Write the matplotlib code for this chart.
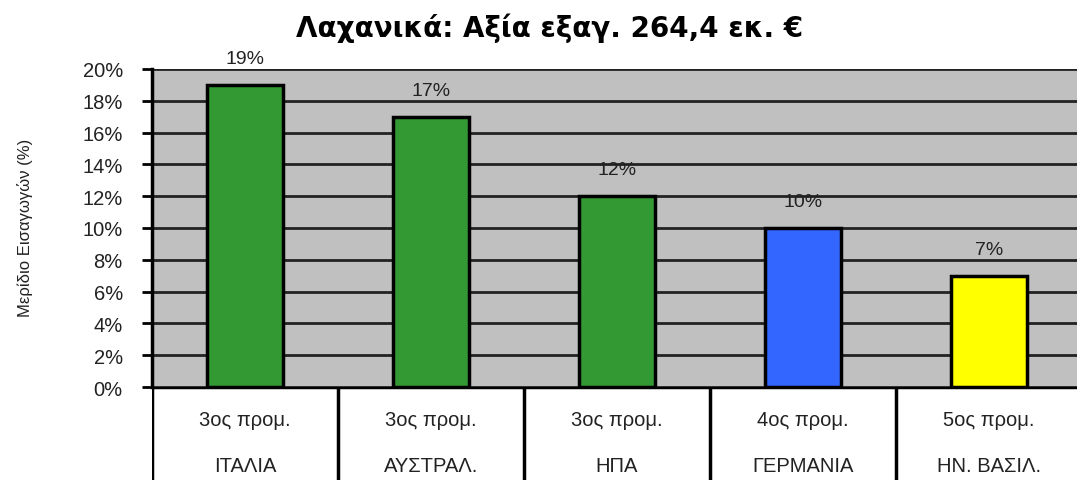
import matplotlib.pyplot as plt
from matplotlib.ticker import PercentFormatter

# data
countries = ['ΙΤΑΛΙΑ', 'ΑΥΣΤΡΑΛ.', 'ΗΠΑ', 'ΓΕΡΜΑΝΙΑ', 'ΗΝ. ΒΑΣΙΛ.']
ranks = ['3ος προμ.', '3ος προμ.', '3ος προμ.', '4ος προμ.', '5ος προμ.']
shares = [19, 17, 12, 10, 7]
bar_colors = ['#339933', '#339933', '#339933', '#3366FF', '#FFFF00']
title = 'Λαχανικά: Αξία εξαγ. 264,4 εκ. €'

plt.rcParams['font.family'] = ['Liberation Sans', 'DejaVu Sans']

W, H = 1077, 481
fig = plt.figure(figsize=(W / 100, H / 100), dpi=100)

# main plot area (pixel positions from the reference)
left, right, top, bottom = 152, 1077, 70, 388
ax = fig.add_axes([left / W, 1 - bottom / H, (right - left) / W, (bottom - top) / H])
ax.set_facecolor('#C0C0C0')

x = list(range(len(countries)))
ax.bar(x, shares, width=0.41, color=bar_colors, edgecolor='black', linewidth=2.5, zorder=3)

for xi, v in zip(x, shares):
    ax.annotate(f'{v}%', (xi, v), xytext=(0, 13), textcoords='offset points',
                ha='center', va='bottom', fontsize=14, color='#222222')

# last cell runs past the image edge
ax.set_xlim(-0.5, -0.5 + 5 * (right - left) / 930)
ax.set_ylim(0, 20)
ax.set_yticks(range(0, 21, 2))
ax.yaxis.set_major_formatter(PercentFormatter(decimals=0))
ax.grid(axis='y', color='#222222', linewidth=2, zorder=1)
ax.set_xticks([])
ax.tick_params(axis='y', direction='out', length=7, width=2, labelsize=14.5, pad=14,
               labelcolor='#222222')
for s in ['top', 'right', 'bottom']:
    ax.spines[s].set_visible(False)
ax.spines['left'].set_linewidth(2.5)

fig.text(25 / W, 1 - 228 / H, 'Μερίδιο Εισαγωγών (%)', rotation=90,
         ha='center', va='center', fontsize=12, color='#222222')

fig.text(550 / W, 1 - 28 / H, title, ha='center', va='center',
         fontsize=20, fontweight='bold', family=['DejaVu Sans'])

# category table under the axis
tab = fig.add_axes([left / W, -0.1, (right - left) / W, 0.1 + (H - bottom) / H])
tab.set_xlim(ax.get_xlim())
tab.set_ylim(0, 1)
tab.axis('off')
tab.axhline(1, color='black', linewidth=2.5)
for b in [i - 0.5 for i in range(len(countries) + 1)]:
    tab.axvline(b, color='black', linewidth=2.5)
for xi, r, c in zip(x, ranks, countries):
    fig.text((left + (xi + 0.5) * 186) / W, 1 - 421 / H, r, ha='center', va='center',
             fontsize=14.5, color='#222222')
    fig.text((left + (xi + 0.5) * 186) / W, 1 - 467 / H, c, ha='center', va='center',
             fontsize=14.5, color='#222222')

fig.savefig('out.png', dpi=100)
